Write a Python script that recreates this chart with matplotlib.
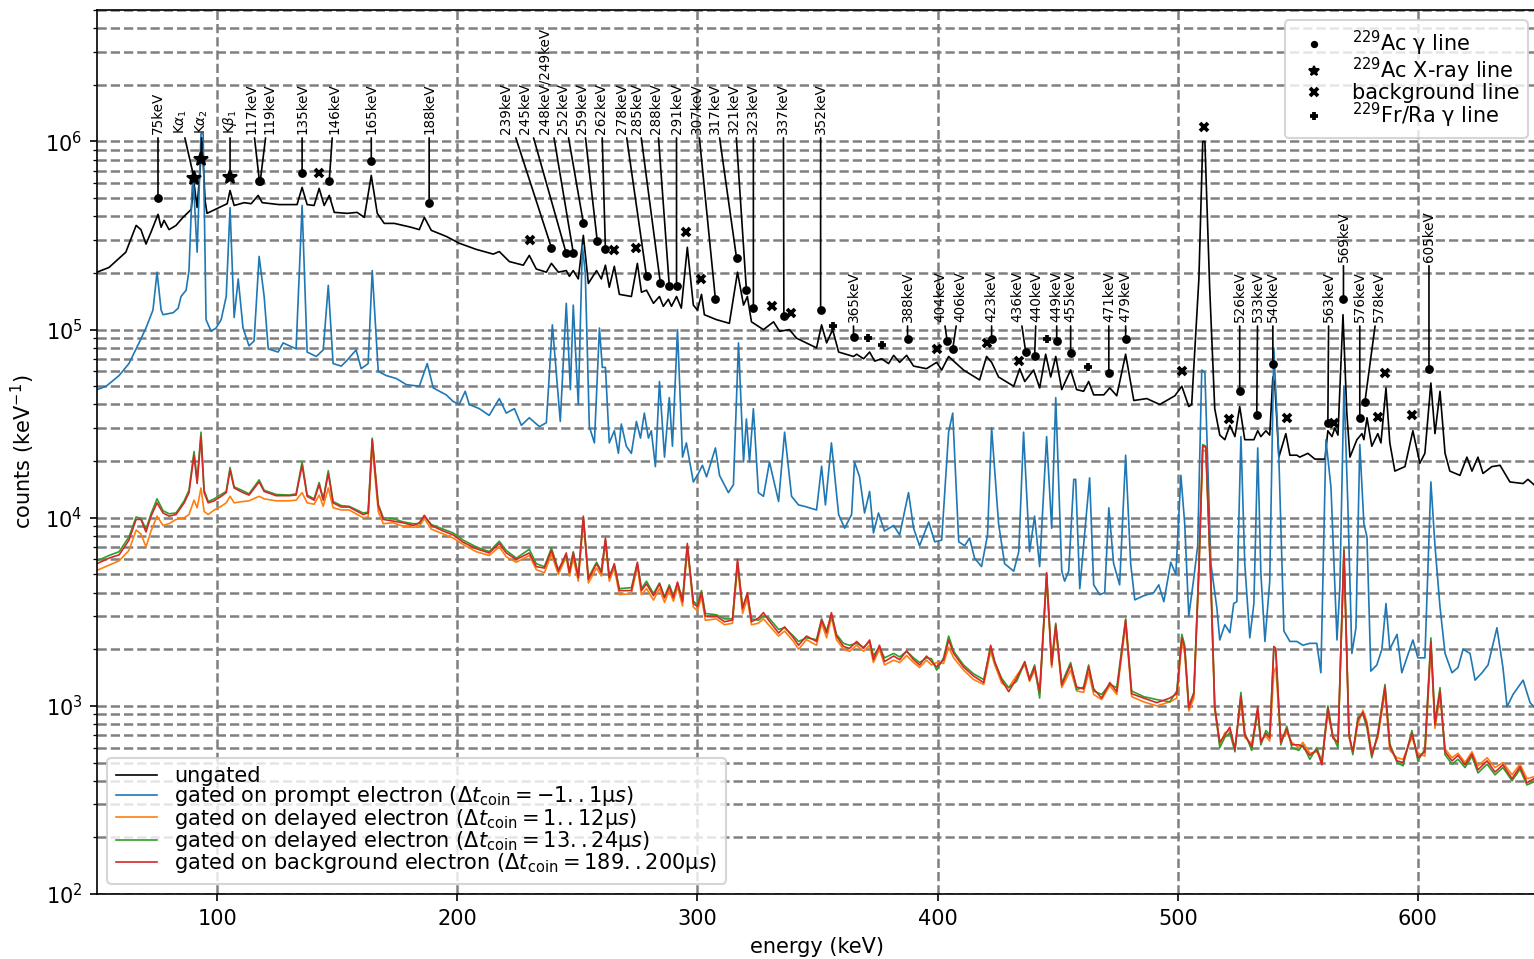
import matplotlib.pyplot as plt
import numpy as np
from matplotlib.lines import Line2D

# ungated spectrum, (energy keV, counts per keV)
ungated = [
    (50, 2.02e5), (55, 2.14e5), (62, 2.58e5), (66.3, 3.58e5), (68.3, 3.4e5), (70.4, 2.85e5),
    (72.5, 3.3e5), (75.4, 4.1e5), (76.7, 3.5e5), (77.9, 3.81e5), (80, 3.4e5), (82.9, 3.58e5),
    (85.8, 3.95e5), (89.2, 4.35e5), (90.4, 5.98e5), (91.7, 4.46e5), (93.8, 1.0e6), (95, 4.86e5),
    (95.8, 4.15e5), (100, 4.4e5), (104.2, 4.67e5), (105.4, 5.49e5), (107.1, 4.57e5), (111.3, 4.73e5),
    (114.2, 4.67e5), (117.1, 5.17e5), (118.8, 4.73e5), (125.8, 4.62e5), (133.3, 4.62e5), (135.4, 5.7e5),
    (137.5, 4.62e5), (140.4, 4.57e5), (142.5, 5.63e5), (144.6, 4.57e5), (146.7, 5.17e5), (148.8, 4.2e5),
    (154.2, 4.15e5), (158.3, 4.2e5), (161.3, 3.95e5), (164.2, 6.6e5), (166.7, 4.15e5), (169.6, 3.67e5),
    (173.8, 3.67e5), (177.5, 3.58e5), (180.8, 3.5e5), (184.2, 3.4e5), (186.3, 3.95e5), (189.2, 3.37e5),
    (195.4, 3.13e5), (200.8, 2.88e5), (207.9, 2.67e5), (215, 2.52e5), (217.5, 2.6e5), (221.7, 2.3e5),
    (227.5, 2.2e5), (230, 2.48e5), (232.9, 2.1e5), (237.1, 2.02e5), (239.2, 2.25e5), (242.1, 2.02e5),
    (245.4, 2.06e5), (246.7, 1.92e5), (248.3, 2.06e5), (250.4, 1.86e5), (252.5, 3.17e5), (254.6, 1.76e5),
    (258, 2.06e5), (260, 1.86e5), (261.7, 2.2e5), (263.3, 1.68e5), (265.4, 2.17e5), (267.5, 1.54e5),
    (272.5, 1.5e5), (275, 2.25e5), (276.7, 1.58e5), (278.8, 1.62e5), (281.7, 1.38e5), (284.2, 1.5e5),
    (285.8, 1.33e5), (287.9, 1.45e5), (289.2, 1.33e5), (291.3, 1.5e5), (293.3, 1.3e5), (295.8, 2.74e5),
    (298.3, 1.35e5), (300, 1.27e5), (301.7, 1.54e5), (302.9, 1.2e5), (307.9, 1.13e5), (313.3, 1.08e5),
    (316.7, 2.02e5), (319.2, 1.35e5), (320.8, 1.5e5), (322.5, 1.1e5), (327.5, 1.0e5), (331.7, 1.1e5),
    (334.2, 9.8e4), (338.3, 1.0e5), (341.3, 9.0e4), (349.6, 8.0e4), (351.7, 1.06e5), (353.8, 8.5e4),
    (356.3, 1.0e5), (358.8, 7.6e4), (365, 7.2e4), (366.3, 7.4e4), (369.2, 7.0e4), (371.7, 7.6e4),
    (373.8, 6.8e4), (376.7, 7.0e4), (379.6, 6.6e4), (381.7, 7.3e4), (384.2, 6.7e4), (387.1, 7.3e4),
    (390, 6.4e4), (395.4, 6.2e4), (399.6, 6.7e4), (401.7, 6.1e4), (404.6, 7.2e4), (406.7, 6.8e4),
    (410.8, 6.1e4), (417.5, 5.4e4), (420.4, 7.2e4), (422.5, 6.7e4), (425.4, 5.6e4), (431.7, 5.0e4),
    (434.2, 6.2e4), (436.3, 5.3e4), (440, 6.1e4), (442.5, 4.9e4), (445, 7.4e4), (447.1, 5.6e4),
    (449.2, 7.2e4), (451.7, 4.8e4), (455.4, 6.1e4), (457.9, 4.8e4), (460.8, 4.7e4), (462.9, 5.3e4),
    (465, 4.5e4), (469.2, 4.5e4), (471.7, 4.9e4), (474.6, 4.45e4), (478.3, 7.4e4), (481.7, 4.2e4),
    (487.1, 4.3e4), (492.5, 4.0e4), (498.8, 4.45e4), (501.7, 5.0e4), (504.6, 3.9e4), (505.8, 4.0e4),
    (508.8, 1.86e5), (510.4, 1.0e6), (511.3, 1.0e6), (513.3, 1.66e5), (515.4, 3.8e4), (517.5, 2.75e4),
    (519.6, 2.6e4), (521.7, 3.1e4), (523.8, 2.7e4), (525.8, 3.9e4), (527.9, 2.6e4), (531.7, 2.6e4),
    (533.3, 2.9e4), (534.6, 2.7e4), (536.7, 2.9e4), (538.3, 2.75e4), (539.6, 5.6e4), (540.4, 5.2e4),
    (542.1, 2.1e4), (545, 2.8e4), (546.7, 2.15e4), (549.6, 2.15e4), (550.8, 2.1e4), (554.2, 2.2e4),
    (557.1, 2.05e4), (561.3, 2.05e4), (562.5, 2.9e4), (564.2, 2.7e4), (565.4, 3.0e4), (566.7, 2.75e4),
    (568.8, 1.2e5), (570.4, 3.6e4), (571.7, 2.1e4), (574.6, 2.6e4), (576.7, 2.8e4), (577.5, 2.6e4),
    (578.8, 3.4e4), (580.8, 2.4e4), (583.3, 2.8e4), (584.6, 2.5e4), (586.7, 4.9e4), (588.3, 2.5e4),
    (590.4, 1.77e4), (594.6, 1.87e4), (597.9, 2.9e4), (600.8, 1.95e4), (602.9, 2.2e4), (605.4, 5.2e4),
    (607.1, 2.8e4), (609.2, 4.7e4), (611.3, 2.2e4), (613.3, 1.77e4), (617.5, 1.68e4), (620.4, 2.1e4),
    (622.5, 1.77e4), (625, 2.1e4), (627.1, 1.72e4), (630.8, 1.87e4), (634.2, 1.9e4), (638.3, 1.55e4),
    (643.8, 1.52e4), (645.8, 1.6e4), (648.3, 1.5e4),
]

# gated on prompt electron
prompt = [
    (50, 4.8e4), (53.8, 5.0e4), (59.2, 5.7e4), (63.3, 6.6e4), (67.5, 8.5e4), (70.4, 1.02e5),
    (73.3, 1.27e5), (75, 2.02e5), (76.7, 1.27e5), (77.5, 1.2e5), (81.7, 1.23e5), (83.8, 1.3e5),
    (85, 1.5e5), (87.1, 1.62e5), (88.3, 2.06e5), (89.6, 5.55e5), (90, 6.6e5), (91.7, 2.58e5),
    (93.3, 1.1e6), (94.2, 1.1e6), (95.4, 1.13e5), (97.5, 9.8e4), (99.6, 1.02e5), (101.7, 1.13e5),
    (103.8, 1.5e5), (105.4, 4.45e5), (107.1, 1.16e5), (108.8, 1.86e5), (110.8, 1.02e5), (113.3, 8.2e4),
    (115.4, 8.7e4), (117.5, 2.45e5), (119.6, 1.5e5), (121.3, 7.9e4), (125.4, 7.6e4), (127.5, 8.5e4),
    (132.9, 7.9e4), (135.4, 4.57e5), (137.5, 7.6e4), (141.3, 7.2e4), (144.2, 7.8e4), (146.3, 1.72e5),
    (148.3, 6.6e4), (151.7, 6.4e4), (153.8, 6.8e4), (157.9, 7.8e4), (160, 6.2e4), (162.9, 6.6e4),
    (164.6, 2.06e5), (167.1, 6.0e4), (170.4, 5.7e4), (174.6, 5.5e4), (178.8, 5.1e4), (184.2, 5.0e4),
    (187.5, 6.6e4), (190, 4.9e4), (195.4, 4.5e4), (198.3, 4.15e4), (200.8, 4.0e4), (203.3, 4.7e4),
    (205, 4.0e4), (209.2, 3.8e4), (213.3, 3.5e4), (217.5, 4.3e4), (220.4, 3.6e4), (223.8, 3.8e4),
    (226.7, 3.1e4), (230, 3.4e4), (234.2, 3.05e4), (237.1, 3.2e4), (239.6, 1.06e5), (242.9, 3.25e4),
    (245.4, 1.38e5), (247.1, 4.8e4), (248.3, 1.35e5), (250.4, 4.0e4), (252.1, 2.8e5), (253.3, 2.0e5),
    (255, 3.05e4), (257.1, 2.5e4), (259.2, 1.02e5), (260.4, 6.3e4), (261.7, 6.3e4), (263.3, 2.5e4),
    (265.4, 2.9e4), (267.1, 2.2e4), (268.3, 3.15e4), (270.4, 2.4e4), (272.5, 2.2e4), (274.6, 3.25e4),
    (276.3, 2.65e4), (277.9, 3.6e4), (279.6, 2.65e4), (280.8, 2.9e4), (282.5, 1.87e4), (284.2, 5.3e4),
    (286.3, 2.1e4), (288.3, 4.35e4), (289.6, 2.4e4), (291.7, 1.0e5), (293.8, 2.1e4), (295.4, 2.5e4),
    (298.3, 1.55e4), (300.4, 1.72e4), (302.1, 1.9e4), (303.8, 1.65e4), (307.5, 2.35e4), (309.2, 1.68e4),
    (312.9, 1.36e4), (315, 1.5e4), (317.1, 8.5e4), (319.2, 1.98e4), (320.4, 3.35e4), (321.7, 1.98e4),
    (323.3, 3.8e4), (325.4, 1.36e4), (327.5, 1.3e4), (330, 1.98e4), (333.8, 1.22e4), (336.3, 2.85e4),
    (339.2, 1.3e4), (342.1, 1.17e4), (344.6, 1.15e4), (349.6, 1.1e4), (351.7, 1.88e4), (353.3, 1.17e4),
    (355.8, 2.5e4), (358.8, 1.04e4), (361.3, 8.8e3), (364.2, 1.04e4), (365.4, 1.98e4), (367.5, 1.65e4),
    (369.6, 1.06e4), (371.7, 1.38e4), (373.3, 8.3e3), (375.4, 1.06e4), (377.9, 8.5e3), (381.7, 9.1e3),
    (384.2, 8.1e3), (387.9, 1.36e4), (390, 8.8e3), (392.5, 7.1e3), (396.3, 9.5e3), (398.8, 7.45e3),
    (401.7, 7.6e3), (404.6, 2.85e4), (406.3, 3.6e4), (408.8, 7.45e3), (411.3, 7.1e3), (413.3, 7.8e3),
    (415.4, 6.1e3), (418.3, 5.5e3), (420.8, 8.1e3), (422.5, 3.0e4), (425.4, 9.3e3), (427.9, 5.7e3),
    (431.7, 5.2e3), (433.8, 6.6e3), (435.8, 2.85e4), (438.3, 6.6e3), (440.4, 1.02e4), (442.5, 5.5e3),
    (445.4, 2.7e4), (447.5, 8.8e3), (449.2, 4.35e4), (451.7, 5.2e3), (452.9, 4.6e3), (454.6, 5.2e3),
    (456.7, 1.6e4), (457.5, 1.6e4), (459.2, 4.2e3), (463.3, 1.63e4), (465, 4.4e3), (467.5, 3.9e3),
    (469.6, 4.0e3), (471.3, 1.13e4), (473.3, 5.7e3), (475.8, 4.4e3), (478.3, 2.15e4), (480.4, 5.7e3),
    (482.1, 3.66e3), (485.8, 3.85e3), (490, 4.0e3), (492.1, 4.4e3), (494.2, 3.58e3), (497.1, 5.8e3),
    (499.2, 5.0e3), (501.3, 1.68e4), (502.9, 9.3e3), (504.6, 3.0e3), (506.7, 4.8e3), (508.3, 7.1e3),
    (510, 6.1e4), (511.3, 5.9e4), (513.8, 5.7e3), (516.3, 3.3e3), (517.5, 2.24e3), (519.6, 2.7e3),
    (521.7, 2.45e3), (523.3, 3.5e3), (524.6, 3.58e3), (526.3, 2.7e4), (527.9, 5.7e3), (530, 2.3e3),
    (531.7, 3.5e3), (533.3, 2.35e4), (534.6, 5.1e3), (536.3, 2.2e3), (538.3, 4.6e3), (540, 8.0e4),
    (542.1, 2.1e4), (544.2, 2.5e3), (546.7, 2.2e3), (549.6, 2.2e3), (552.1, 2.1e3), (555, 2.15e3),
    (557.9, 2.15e3), (559.6, 1.5e3), (561.7, 2.6e4), (563.8, 1.45e4), (566.3, 2.24e3), (567.5, 4.3e3),
    (569.2, 5.0e4), (570.8, 1.2e4), (572.5, 1.9e3), (574.2, 2.6e3), (575.8, 2.45e4), (577.5, 9.3e3),
    (578.8, 7.9e3), (580.4, 1.53e3), (582.9, 1.65e3), (585, 2.0e3), (586.7, 3.5e3), (588.3, 2.0e3),
    (591.3, 2.4e3), (593.3, 1.5e3), (595.4, 1.8e3), (597.9, 2.24e3), (600, 1.8e3), (602.9, 1.8e3),
    (605.4, 1.55e4), (607.1, 7.1e3), (609.2, 3.35e3), (611.3, 1.9e3), (614.2, 1.5e3), (616.7, 1.6e3),
    (618.8, 2.0e3), (621.7, 1.9e3), (623.8, 1.37e3), (626.7, 1.5e3), (629.2, 1.65e3), (632.9, 2.6e3),
    (635.4, 1.6e3), (637.1, 990), (639.6, 1.15e3), (643.8, 1.37e3), (646.7, 1.04e3), (648.3, 990),
]

# delayed / background gates share one energy axis
delayed_e = [
    50, 55, 59.2, 63.3, 66.3, 68.3, 70.4, 72.5, 75.0, 77.5,
    80.0, 82.9, 86.3, 88.3, 90.4, 91.7, 93.3, 94.6, 96.3, 98.8,
    101.7, 103.8, 105.4, 107.1, 110.8, 113.3, 117.5, 119.6, 124.6, 130.0,
    132.9, 135.4, 137.5, 140.4, 142.5, 144.2, 146.3, 148.3, 151.7, 155.0,
    160.8, 162.9, 164.6, 167.1, 169.2, 173.3, 177.5, 181.7, 184.2, 186.3,
    189.2, 194.2, 198.3, 202.5, 207.9, 213.3, 217.5, 220.4, 224.6, 230.0,
    232.9, 236.3, 239.2, 242.1, 245.4, 246.7, 248.3, 250.4, 252.5, 254.6,
    258.0, 260.0, 261.7, 263.3, 265.4, 267.5, 272.5, 275.0, 276.7, 278.8,
    281.7, 284.2, 286.3, 288.3, 290.0, 291.7, 293.8, 295.8, 298.3, 300.0,
    301.7, 303.3, 307.9, 311.3, 314.6, 316.7, 318.8, 320.8, 322.5, 325.4,
    327.5, 329.6, 333.8, 336.3, 340.0, 342.1, 345.4, 349.6, 351.7, 353.8,
    355.8, 357.9, 360.8, 363.3, 366.3, 369.2, 371.7, 373.3, 375.8, 377.9,
    381.7, 384.2, 387.1, 390.0, 392.5, 395.4, 397.5, 399.6, 402.5, 404.6,
    406.7, 410.8, 415.0, 419.2, 422.1, 423.8, 426.7, 429.6, 432.9, 436.3,
    438.3, 440.4, 442.5, 445.4, 447.5, 449.2, 451.7, 455.4, 457.9, 460.8,
    462.9, 465.0, 468.3, 471.7, 474.6, 478.3, 480.8, 485.8, 491.3, 496.7,
    499.6, 501.7, 502.9, 504.6, 506.7, 508.8, 510.4, 511.7, 513.8, 515.4,
    517.5, 519.6, 521.7, 523.8, 526.3, 527.9, 530.8, 533.3, 534.6, 536.7,
    538.3, 540.0, 540.8, 542.9, 545.4, 547.5, 550.4, 552.1, 555.0, 557.9,
    560.0, 562.5, 564.6, 566.7, 569.2, 571.3, 572.9, 575.0, 577.1, 578.8,
    580.8, 583.3, 586.3, 588.3, 591.3, 593.8, 597.5, 600.0, 602.9, 605.4,
    607.1, 609.2, 611.3, 614.2, 616.7, 619.6, 622.5, 625.0, 628.8, 632.1,
    635.4, 639.2, 642.5, 645.4, 648.3,
]

delayed_1_12 = [
    5250, 5600, 5900, 6700, 8600, 8200, 7000, 8500, 10200, 9100,
    9300, 9800, 10000, 10400, 12400, 11300, 14400, 10800, 10400, 11000,
    11500, 12000, 13000, 12000, 12200, 12300, 13000, 12600, 12300, 12300,
    12400, 13600, 12000, 11800, 13200, 11500, 14400, 11300, 11000, 11000,
    10000, 10100, 24000, 10800, 9300, 9400, 9000, 8900, 9000, 9900,
    8700, 8200, 7800, 7200, 6600, 6300, 7000, 6200, 5800, 6300,
    5300, 5100, 6400, 5000, 6200, 4900, 6100, 4600, 9800, 4500,
    5400, 4900, 7400, 4600, 5400, 3900, 3950, 5500, 3900, 4200,
    3650, 4200, 3550, 4100, 3600, 4300, 3400, 6900, 3350, 3200,
    3800, 2850, 2900, 2700, 2750, 5500, 3100, 3700, 2700, 2750,
    2900, 2700, 2350, 2500, 2200, 2000, 2250, 2100, 2750, 2300,
    2950, 2250, 2000, 1950, 2100, 1950, 2100, 1700, 2000, 1650,
    1750, 1700, 1850, 1700, 1600, 1750, 1650, 1700, 1680, 2050,
    1800, 1550, 1380, 1300, 1950, 1650, 1320, 1250, 1450, 1650,
    1350, 1550, 1150, 4800, 1600, 2550, 1250, 1550, 1200, 1180,
    1500, 1150, 1080, 1280, 1150, 2700, 1120, 1050, 1000, 1050,
    1100, 2150, 1900, 940, 1100, 5100, 23000, 22500, 4300, 950,
    620, 720, 740, 600, 1050, 680, 630, 920, 660, 690,
    650, 1500, 1600, 660, 720, 640, 600, 640, 560, 570,
    520, 900, 700, 620, 6300, 680, 560, 800, 950, 820,
    560, 680, 1180, 580, 530, 520, 680, 560, 540, 2050,
    760, 1130, 590, 530, 560, 500, 570, 480, 530, 470,
    500, 430, 490, 410, 420,
]

delayed_13_24 = [
    5900, 6300, 6600, 7900, 10100, 9900, 8700, 10500, 12600, 10900,
    10500, 10600, 12300, 14000, 22500, 15800, 28500, 14000, 12200, 12600,
    13300, 13800, 18500, 14600, 13900, 13400, 15900, 14000, 13300, 13200,
    13400, 19800, 13200, 12600, 15400, 12500, 17800, 12200, 11600, 11500,
    10600, 10700, 26500, 11800, 10000, 9900, 9500, 9300, 9300, 10200,
    9200, 8700, 8300, 7600, 7000, 6600, 7500, 6700, 6100, 6800,
    5700, 5500, 6900, 5300, 6300, 5200, 6600, 4900, 10000, 4800,
    5800, 5200, 7600, 4900, 5600, 4200, 4250, 5700, 4200, 4600,
    3950, 4500, 3800, 4400, 3850, 4500, 3650, 7100, 3600, 3450,
    4100, 3100, 3050, 2900, 2900, 5800, 3350, 3900, 2900, 2850,
    3000, 2950, 2550, 2600, 2350, 2200, 2300, 2250, 2900, 2500,
    3050, 2400, 2150, 2100, 2150, 2050, 2200, 1850, 2050, 1800,
    1900, 1820, 1950, 1800, 1700, 1800, 1780, 1550, 1800, 2350,
    1950, 1650, 1480, 1380, 2050, 1700, 1400, 1250, 1350, 1700,
    1400, 1650, 1100, 5000, 1700, 2750, 1320, 1700, 1220, 1260,
    1650, 1200, 1150, 1300, 1250, 2900, 1200, 1120, 1080, 1050,
    1200, 2400, 2100, 1000, 1180, 5500, 24500, 24000, 4700, 1000,
    600, 680, 720, 570, 1180, 720, 580, 950, 620, 740,
    700, 2000, 1950, 620, 780, 600, 580, 620, 520, 600,
    500, 1000, 690, 600, 6900, 720, 550, 870, 900, 760,
    530, 720, 1300, 630, 500, 480, 740, 510, 590, 2300,
    820, 1250, 550, 490, 520, 470, 540, 440, 490, 430,
    470, 400, 460, 380, 395,
]

background_gate = [
    5700, 6100, 6350, 7600, 9800, 9800, 8400, 10200, 12000, 10600,
    10200, 10400, 12000, 13600, 21500, 15200, 27000, 13600, 12000, 12300,
    13000, 13600, 17900, 14400, 13600, 13200, 15500, 13800, 13100, 13100,
    13200, 19000, 13000, 12400, 15000, 12400, 17200, 12000, 11400, 11400,
    10400, 10600, 26000, 11600, 9800, 9600, 9400, 9100, 9400, 10300,
    9100, 8500, 8100, 7400, 6850, 6500, 7300, 6500, 6000, 6500,
    5500, 5400, 6700, 5200, 6500, 5100, 6500, 4800, 10200, 4700,
    5700, 5100, 7800, 4800, 5700, 4100, 4100, 5800, 4100, 4450,
    3850, 4450, 3750, 4300, 3750, 4550, 3580, 7300, 3500, 3370,
    4000, 3000, 3000, 2800, 2860, 6000, 3280, 4000, 2800, 2930,
    3130, 2860, 2440, 2630, 2300, 2100, 2350, 2200, 2860, 2440,
    3130, 2350, 2070, 2020, 2200, 2020, 2240, 1760, 2100, 1720,
    1840, 1760, 1960, 1760, 1650, 1840, 1720, 1610, 1760, 2240,
    1900, 1610, 1440, 1330, 2100, 1720, 1370, 1190, 1400, 1720,
    1370, 1610, 1190, 5100, 1650, 2690, 1290, 1650, 1260, 1230,
    1610, 1230, 1100, 1330, 1190, 2860, 1160, 1100, 1040, 1100,
    1160, 2300, 2020, 975, 1160, 5350, 24000, 23700, 4550, 990,
    640, 700, 770, 584, 1130, 700, 607, 990, 640, 715,
    675, 2070, 2020, 640, 755, 621, 621, 607, 545, 584,
    486, 975, 675, 640, 6700, 700, 570, 843, 925, 793,
    545, 700, 1260, 607, 510, 500, 715, 530, 570, 2200,
    793, 1200, 570, 510, 545, 486, 555, 457, 510, 445,
    486, 410, 475, 390, 410,
]

# 229Ac gamma lines: label, line energy, marker height, label anchor energy, label row
ac_labels = ['75keV', '117keV', '119keV', '135keV', '146keV', '165keV', '188keV',
             '239keV', '245keV', '248keV/249keV', '252keV', '259keV', '262keV', '278keV',
             '285keV', '288keV', '291keV', '307keV', '317keV', '321keV', '323keV',
             '337keV', '352keV', '365keV', '388keV', '404keV', '406keV', '423keV',
             '436keV', '440keV', '449keV', '455keV', '471keV', '479keV', '526keV',
             '533keV', '540keV', '563keV', '569keV', '576keV', '578keV', '605keV']
ac_energy = [75.4, 117.6, 118.0, 135.4, 146.7, 164.2, 188.3,
             239.2, 245.4, 248.3, 252.5, 258.3, 261.7, 278.8,
             284.6, 288.3, 291.3, 307.5, 316.3, 320.4, 323.3,
             336.0, 351.3, 365.0, 387.5, 404.0, 406.3, 422.5,
             436.7, 440.4, 449.6, 455.4, 471.3, 478.3, 525.8,
             532.9, 539.6, 562.5, 569.0, 575.8, 577.9, 604.6]
ac_mark = [4.98e5, 6.2e5, 6.2e5, 6.8e5, 6.2e5, 7.9e5, 4.7e5,
           2.73e5, 2.54e5, 2.57e5, 3.7e5, 2.95e5, 2.67e5, 1.93e5,
           1.76e5, 1.7e5, 1.7e5, 1.45e5, 2.4e5, 1.62e5, 1.3e5,
           1.18e5, 1.27e5, 9.1e4, 8.9e4, 8.7e4, 7.9e4, 8.9e4,
           7.6e4, 7.2e4, 8.7e4, 7.5e4, 5.9e4, 8.9e4, 4.7e4,
           3.5e4, 6.6e4, 3.2e4, 1.45e5, 3.4e4, 4.1e4, 6.2e4]
ac_text_e = [75.4, 114.2, 121.7, 135.4, 148.8, 164.2, 188.3,
             220.4, 228.3, 236.3, 244.2, 252.0, 260.0, 268.8,
             275.0, 282.9, 291.3, 299.6, 307.5, 315.4, 323.3,
             335.8, 351.3, 365.0, 387.5, 401.3, 409.6, 422.5,
             433.3, 441.3, 449.6, 455.4, 471.3, 478.3, 525.8,
             533.3, 539.6, 562.9, 569.0, 575.8, 583.8, 604.6]
ac_text_row = ['hi'] * 23 + ['lo'] * 15 + ['mid', 'lo', 'lo', 'mid']

# 229Ac X-ray lines
xray_labels = [r'K$\alpha_1$', r'K$\alpha_2$', r'K$\beta_1$']
xray_energy = [90.4, 93.3, 105.4]
xray_mark = [6.4e5, 8.1e5, 6.5e5]
xray_text_e = [85.0, 93.8, 105.4]

# background lines
bg_energy = [142.5, 230.4, 265.4, 274.6, 295.4, 301.3, 331.0, 339.0, 399.6, 420.4,
             434.0, 501.7, 510.8, 521.3, 545.4, 565.0, 583.3, 586.3, 597.5]
bg_mark = [6.8e5, 3.0e5, 2.64e5, 2.7e5, 3.3e5, 1.86e5, 1.33e5, 1.22e5, 7.85e4, 8.5e4,
           6.8e4, 6.0e4, 1.2e6, 3.35e4, 3.4e4, 3.2e4, 3.45e4, 5.9e4, 3.5e4]

# 229Fr / 229Ra lines
frra_energy = [356.3, 371.0, 376.7, 445.4, 462.5]
frra_mark = [1.05e5, 9.0e4, 8.3e4, 8.9e4, 6.3e4]

row_level = {'hi': 1.1e6, 'mid': 2.3e5, 'lo': 1.1e5}

W, H = 1534, 959
fig = plt.figure(figsize=(W / 150, H / 150), dpi=150)
ax = fig.add_axes([97 / W, 1 - 894 / H, (1538 - 97) / W, (894 - 10) / H])

ue, uc = np.array(ungated).T
pe, pc = np.array(prompt).T
ax.plot(ue, uc, color='k', lw=0.8, label='ungated')
ax.plot(pe, pc, color='C0', lw=0.8,
        label=r'gated on prompt electron ($\Delta t_\mathrm{coin} = -1..1\mathrm{\mu}s$)')
ax.plot(delayed_e, delayed_1_12, color='C1', lw=0.8,
        label=r'gated on delayed electron ($\Delta t_\mathrm{coin} = 1..12\mathrm{\mu}s$)')
ax.plot(delayed_e, delayed_13_24, color='C2', lw=0.8,
        label=r'gated on delayed electron ($\Delta t_\mathrm{coin} = 13..24\mathrm{\mu}s$)')
ax.plot(delayed_e, background_gate, color='C3', lw=0.8,
        label=r'gated on background electron ($\Delta t_\mathrm{coin} = 189..200\mathrm{\mu}s$)')

# line markers
ax.plot(ac_energy, ac_mark, 'o', color='k', ms=3.2, zorder=5)
ax.plot(xray_energy, xray_mark, '*', color='k', ms=7, zorder=5)
ax.plot(bg_energy, bg_mark, 'x', color='k', ms=4.2, mew=1.8, zorder=5)
ax.plot(frra_energy, frra_mark, '+', color='k', ms=4.2, mew=1.8, zorder=5)

arrow = dict(arrowstyle='-', color='k', lw=0.8, shrinkA=0, shrinkB=0)
for lbl, e, m, te, row in zip(ac_labels, ac_energy, ac_mark, ac_text_e, ac_text_row):
    ax.annotate(lbl, xy=(e, m), xytext=(te, row_level[row]), rotation=90,
                ha='center', va='bottom', fontsize=6.5, arrowprops=arrow)
for lbl, e, m, te in zip(xray_labels, xray_energy, xray_mark, xray_text_e):
    ax.annotate(lbl, xy=(e, m), xytext=(te, row_level['hi']), rotation=90,
                ha='center', va='bottom', fontsize=6.5, arrowprops=arrow)

ax.set_yscale('log')
ax.set_xlim(50, 650)
ax.set_ylim(100, 5e6)
ax.set_xlabel('energy (keV)')
ax.set_ylabel(r'counts (keV$^{-1}$)')
ax.grid(which='major', ls='--', color='gray', lw=1.2)
ax.grid(which='minor', axis='y', ls='--', color='gray', lw=1.2)

mark_handles = [
    Line2D([], [], ls='none', marker='o', color='k', ms=2.5),
    Line2D([], [], ls='none', marker='*', color='k', ms=5),
    Line2D([], [], ls='none', marker='x', color='k', ms=3.5, mew=1.8),
    Line2D([], [], ls='none', marker='+', color='k', ms=3.5, mew=1.8),
]
mark_labels = [r'$^{229}$Ac γ line', r'$^{229}$Ac X-ray line', 'background line',
               r'$^{229}$Fr/Ra γ line']
leg1 = ax.legend(mark_handles, mark_labels, loc='upper right', labelspacing=-0.1)
ax.add_artist(leg1)
ax.legend(loc='lower left', labelspacing=-0.08)

fig.savefig('out.png', dpi=150)
